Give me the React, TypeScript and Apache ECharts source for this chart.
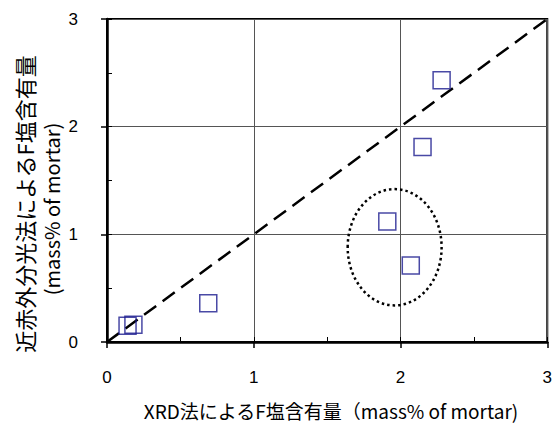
import React, { useEffect, useRef } from "react";
import * as echarts from "echarts";

const xrdValues = [2.28, 2.15, 1.91, 2.07, 0.69, 0.14, 0.18];
const nirValues = [2.43, 1.81, 1.12, 0.71, 0.36, 0.15, 0.16];
const refLine = [[0, 0], [3, 3]];
const ellipseAnno = [[1.96, 0.88, 0.32, 0.54]];
const xTitle = "XRD法によるF塩含有量（mass% of mortar)";
const yTitle1 = "近赤外分光法によるF塩含有量";
const yTitle2 = "(mass% of mortar)";

export default function App() {
  const ref = useRef<HTMLDivElement>(null);
  useEffect(() => {
    if (!ref.current) return;
    const chart = echarts.init(ref.current, null, { renderer: "svg" });
    const font = "'Liberation Sans', Arial, sans-serif";
    const cjk = "'Noto Sans CJK JP', 'Noto Sans', sans-serif";
    const axisBase = {
      type: "value",
      min: 0,
      max: 3,
      interval: 1,
    };
    chart.setOption({
      animation: false,
      backgroundColor: "#fff",
      grid: {
        left: 107,
        top: 19,
        right: 4,
        bottom: 81,
        show: true,
        borderColor: "#000",
        borderWidth: 2,
        backgroundColor: "transparent",
      },
      xAxis: [
        {
          ...axisBase,
          axisLine: { show: true, lineStyle: { color: "#000", width: 2.5 } },
          axisTick: { show: true, inside: false, length: 6, lineStyle: { color: "#000", width: 1.5 } },
          axisLabel: { margin: 27, fontSize: 17, color: "#000", fontFamily: font },
          splitLine: { show: true, lineStyle: { color: "#555", width: 1 } },
        },
        {
          ...axisBase,
          interval: 0.5,
          position: "bottom",
          axisLine: { show: false },
          axisTick: { show: true, inside: true, length: 5, lineStyle: { color: "#000", width: 1 } },
          axisLabel: { show: false },
          splitLine: { show: false },
        },
      ],
      yAxis: [
        {
          ...axisBase,
          axisLine: { show: true, lineStyle: { color: "#000", width: 2.5 } },
          axisTick: { show: true, inside: false, length: 6, lineStyle: { color: "#000", width: 1.5 } },
          axisLabel: { margin: 29, fontSize: 17, color: "#000", fontFamily: font },
          splitLine: { show: true, lineStyle: { color: "#555", width: 1 } },
        },
        {
          ...axisBase,
          interval: 0.5,
          position: "left",
          axisLine: { show: false },
          axisTick: { show: true, inside: true, length: 5, lineStyle: { color: "#000", width: 1 } },
          axisLabel: { show: false },
          splitLine: { show: false },
        },
      ],
      series: [
        {
          type: "line",
          data: refLine,
          symbol: "none",
          lineStyle: { color: "#000", width: 2.5, type: [15, 8] },
          z: 2,
        },
        {
          type: "custom",
          data: ellipseAnno,
          z: 3,
          renderItem: (params: any, api: any) => {
            const c = api.coord([api.value(0), api.value(1)]);
            const s = api.size([api.value(2), api.value(3)]);
            return {
              type: "ellipse",
              shape: { cx: c[0], cy: c[1], rx: s[0], ry: s[1] },
              style: { fill: "none", stroke: "#000", lineWidth: 2.5, lineDash: [2.5, 3] },
            };
          },
        },
        {
          type: "scatter",
          data: xrdValues.map((x, i) => [x, nirValues[i]]),
          symbol: "rect",
          symbolSize: 17,
          itemStyle: { color: "rgba(255,255,255,0)", borderColor: "#1c1c8e", borderWidth: 1.5 },
          z: 4,
        },
      ],
      graphic: [
        {
          type: "text",
          x: 331,
          y: 410,
          style: { text: xTitle, fill: "#000", font: `19px ${cjk}`, align: "center", verticalAlign: "middle" },
        },
        {
          type: "text",
          x: 24,
          y: 204,
          rotation: Math.PI / 2,
          style: { text: yTitle1, fill: "#000", font: `22px ${cjk}`, align: "center", verticalAlign: "middle" },
        },
        {
          type: "text",
          x: 51,
          y: 209,
          rotation: Math.PI / 2,
          style: { text: yTitle2, fill: "#000", font: `20px ${cjk}`, align: "center", verticalAlign: "middle" },
        },
      ],
    });
    return () => chart.dispose();
  }, []);
  return <div ref={ref} style={{ position: "absolute", left: 0, top: 0, width: 555, height: 423 }} />;
}
